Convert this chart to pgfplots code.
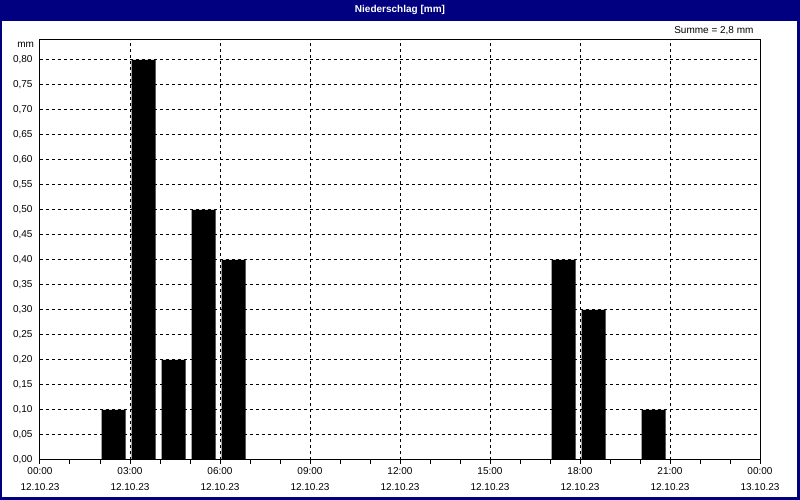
\documentclass[border=0pt]{standalone}
\usepackage{fontspec}
\setmainfont{Liberation Sans}
\usepackage{pgfplots}
\pgfplotsset{compat=1.18}
\definecolor{navy}{RGB}{0,0,128}
\begin{document}
\begin{tikzpicture}[x=1pt,y=1pt]
\fill[navy] (0,0) rectangle (800,500);
\fill[white] (2,3) rectangle (797,479);
\node[font=\bfseries\fontsize{10}{12}\selectfont, text=white] at (400,490) {Niederschlag [mm]};
\node[font=\fontsize{10}{12}\selectfont, anchor=east] at (757,469) {Summe = 2,8 mm};
\node[font=\fontsize{10}{12}\selectfont, anchor=east] at (37.5,455) {mm};
\begin{axis}[at={(40pt,40pt)}, anchor=south west, width=720pt, height=420pt, scale only axis,
  xmin=0, xmax=24, ymin=0, ymax=0.84,
  xtick={0,3,6,9,12,15,18,21,24},
  minor xtick={0,1,...,24},
  xticklabels={{00:00\\12.10.23},{03:00\\12.10.23},{06:00\\12.10.23},{09:00\\12.10.23},{12:00\\12.10.23},{15:00\\12.10.23},{18:00\\12.10.23},{21:00\\12.10.23},{00:00\\13.10.23}},
  xticklabel style={align=center, font=\fontsize{10}{16}\selectfont},
  ytick={0,0.05,0.10,0.15,0.20,0.25,0.30,0.35,0.40,0.45,0.50,0.55,0.60,0.65,0.70,0.75,0.80},
  yticklabel style={font=\fontsize{10}{12}\selectfont,
    /pgf/number format/.cd, fixed, fixed zerofill, precision=2, use comma, assume math mode=true},
  xtick pos=bottom, ytick pos=left,
  tick align=outside,
  major tick length=4pt, minor tick length=4pt,
  ytick style={draw=none},
  tick style={black, line width=1pt},
  xmajorgrids, ymajorgrids,
  major grid style={black, line width=1pt, dash pattern=on 3pt off 3pt},
  axis line style={black, line width=1pt},
  /pgf/number format/assume math mode=true,
]
\addplot[ybar, bar width=0.8, fill=black, draw=none] coordinates {
  (2.45,0.1) (3.45,0.8) (4.45,0.2) (5.45,0.5) (6.45,0.4)
  (17.45,0.4) (18.45,0.3) (20.45,0.1)
};
\end{axis}
\end{tikzpicture}
\end{document}
